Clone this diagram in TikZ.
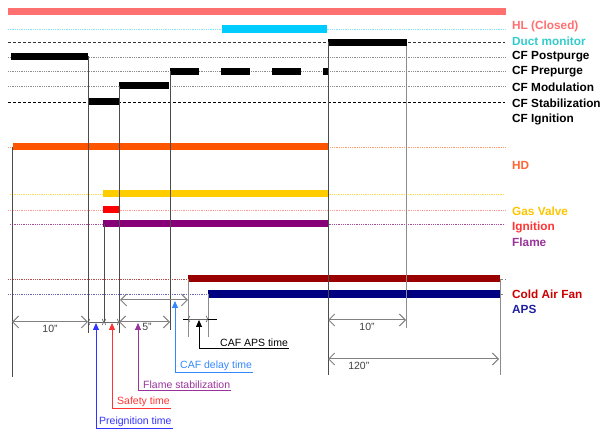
\documentclass[tikz,border=0pt]{standalone}
\usepackage{fontspec}
\setmainfont{Liberation Sans}
\usepackage{tikz}
\usetikzlibrary{arrows.meta,positioning,calc}
\definecolor{hlred}{RGB}{255,112,112}
\definecolor{ductcyan}{RGB}{0,204,255}
\definecolor{ductlbl}{RGB}{51,204,204}
\definecolor{hdorange}{RGB}{255,85,0}
\definecolor{hdlbl}{RGB}{255,102,51}
\definecolor{gasyellow}{RGB}{255,204,0}
\definecolor{ignred}{RGB}{255,0,0}
\definecolor{flamepurple}{RGB}{136,0,119}
\definecolor{cafred}{RGB}{153,0,0}
\definecolor{caflbl}{RGB}{204,0,0}
\definecolor{apsnavy}{RGB}{0,0,128}
\definecolor{apslbl}{RGB}{31,31,160}
\definecolor{preblue}{RGB}{51,51,255}
\definecolor{safered}{RGB}{255,51,51}
\definecolor{stabpurple}{RGB}{153,51,153}
\definecolor{delayblue}{RGB}{51,136,255}

\begin{document}
\begin{tikzpicture}[
      x=1pt, y=-1pt,
      sig/.style={line width=7pt},
      guide/.style={densely dotted, line width=0.8pt},
      edge/.style={draw=black!70, line width=0.7pt},
      faint/.style={draw=black!45, line width=0.8pt},
      dim/.style={draw=black!50, line width=1pt,
                  {Straight Barb[length=6pt,width=12pt,line width=1pt]}-{Straight Barb[length=6pt,width=12pt,line width=1pt]}},
      tinydim/.style={draw=black!60, line width=0.6pt,
                  {Straight Barb[length=1.5pt,width=6pt]}-{Straight Barb[length=1.5pt,width=6pt]}},
      lbl/.style={font=\bfseries\fontsize{11.8}{13}\selectfont, anchor=west, inner sep=1pt},
      call/.style={line width=0.8pt, -{Triangle[length=7pt,width=6pt]}},
      ctext/.style={font=\fontsize{10.5}{12}\selectfont, anchor=south west, inner sep=1pt},
      dtext/.style={font=\fontsize{10.5}{11}\selectfont, text=black!75, inner sep=0pt},
    ]
    \useasboundingbox (0,0) rectangle (603,430);

    % signal rows
    \draw[sig, hlred] (8,12) -- (506,12);
    \draw[guide, ductcyan!50] (8,29) -- (505,29);
    \draw[sig, ductcyan, line width=8pt] (222,29) -- (327,29);
    \draw[densely dashed, line width=0.6pt, black!80] (8,42) -- (505,42);
    \draw[sig, black] (328,42.5) -- (407,42.5);
    \foreach \y in {57,71,86}
      \draw[guide, black!45] (8,\y) -- (505,\y);
    \draw[densely dashed, line width=0.6pt] (8,102) -- (505,102);
    \draw[sig] (11,56.5) -- (88,56.5);
    \foreach \a/\b in {170/199, 221/250, 272/301, 323/328}
      \draw[sig] (\a,71.5) -- (\b,71.5);
    \draw[sig] (119,85.5) -- (169,85.5);
    \draw[sig] (88,102) -- (119,102);

    \draw[guide, hdorange!60] (8,147) -- (505,147);
    \draw[sig, hdorange] (13,147) -- (328,147);
    \draw[guide, gasyellow!70] (10,194) -- (505,194);
    \draw[sig, gasyellow] (103,194) -- (328,194);
    \draw[guide, ignred!40] (8,210) -- (505,210);
    \draw[sig, ignred] (103,209.5) -- (119,209.5);
    \draw[guide, flamepurple!70] (10,224) -- (505,224);
    \draw[sig, flamepurple] (103,224) -- (328,224);
    \draw[guide, cafred!70] (8,279) -- (188,279);
    \draw[densely dashed, black!50, line width=0.6pt] (500,279) -- (506,279);
    \draw[sig, cafred] (188,278.5) -- (500,278.5);
    \draw[guide, apsnavy!60] (8,294) -- (208,294);
    \draw[densely dashed, black!50, line width=0.6pt] (500,294) -- (505,294);
    \draw[sig, apsnavy, line width=8pt] (208,294) -- (500,294);

    % time marks
    \draw[edge] (12,147) -- (12,377);
    \draw[edge] (88,56) -- (88,333);
    \draw[edge] (104,224) -- (104,323);
    \draw[edge] (119,86) -- (119,333);
    \draw[edge] (170,71) -- (170,330);
    \draw[faint] (188,279) -- (188,337);
    \draw[faint] (208,294) -- (208,337);
    \draw[edge] (328,42) -- (328,375);
    \draw[faint] (406,46) -- (406,328);
    \draw[faint] (500,279) -- (500,375);

    % labels on the right
    \node[lbl, text=hlred] (lhl) at (511,26) {HL (Closed)};
    \node[lbl, text=ductlbl] (lduct) at (511,41) {Duct monitor};
    \node[lbl] (lpost) at (511,57) {CF Postpurge};
    \node[lbl] (lpre) at (511,72) {CF Prepurge};
    \node[lbl] (lmod) at (511,87) {CF Modulation};
    \node[lbl] (lstab) at (511,103) {CF Stabilization};
    \node[lbl] (lign) at (511,119) {CF Ignition};
    \node[lbl, text=hdlbl] (lhd) at (511,165) {HD};
    \node[lbl, text=gasyellow!90!orange] (lgas) at (511,211) {Gas Valve};
    \node[lbl, text=safered] (lignit) at (511,227) {Ignition};
    \node[lbl, text=stabpurple] (lflame) at (511,242) {Flame};
    \node[lbl, text=caflbl] (lcaf) at (511,294) {Cold Air Fan};
    \node[lbl, text=apslbl] (laps) at (511,309) {APS};

    % durations
    \coordinate (t0) at (12,322);
    \coordinate (tpp) at (88,322);
    \coordinate (tpi) at (104,322);
    \coordinate (tsf) at (119,322);
    \coordinate (tst) at (170,322);
    \draw[dim] (t0) -- (tpp) node[dtext, midway, below=3pt] (d10a) {10"};
    \draw[tinydim] (tpp) -- (tpi);
    \draw[tinydim] (tpi) -- (tsf);
    \draw[dim] (tsf) -- (tst) node[dtext, pos=0.55, below=1pt] (d5) {5"};
    \draw[dim] (120,300) -- (188,300);
    \draw[line width=0.7pt] (183,319) -- (217,319);
    \draw[tinydim] (188,319) -- (208,319);
    \draw[dim] (328,320) -- (406,320) node[dtext, midway, below=3pt] (d10b) {10"};
    \draw[dim] (328,359) -- (499,359) node[dtext, pos=0.18, below=3pt] (d120) {120"};

    % call-outs
    \coordinate (apre) at (96,323);
    \coordinate (asafe) at (112,323);
    \coordinate (astab) at (138,323);
    \coordinate (adelay) at (175,301);
    \coordinate (aaps) at (199,320);
    \node[ctext, text=preblue] (cpre) at (98,428) {Preignition time};
    \node[ctext, text=safered] (csafe) at (116,408) {Safety time};
    \node[ctext, text=stabpurple] (cstab) at (142,390) {Flame stabilization};
    \node[ctext, text=delayblue] (cdelay) at (179,372) {CAF delay time};
    \node[ctext] (caps) at (219,348) {CAF APS time};
    \draw[call, preblue] (cpre.south east) -- (cpre.south east -| apre) -- (apre);
    \draw[call, safered] (csafe.south east) -- (csafe.south east -| asafe) -- (asafe);
    \draw[call, stabpurple] (cstab.south east) -- (cstab.south east -| astab) -- (astab);
    \draw[call, delayblue] (cdelay.south east) -- (cdelay.south east -| adelay) -- (adelay);
    \draw[call, black] (caps.south east) -- (caps.south east -| aaps) -- (aaps);
  \end{tikzpicture}
\end{document}
